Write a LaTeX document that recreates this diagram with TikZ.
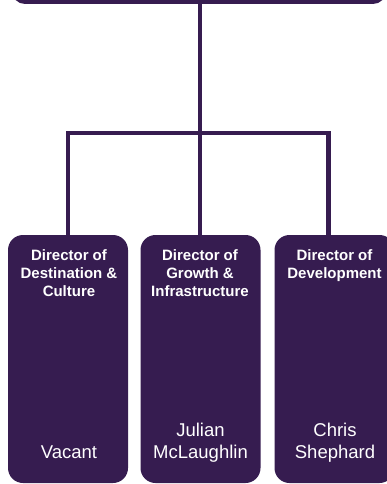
\documentclass[tikz,border=0pt]{standalone}
\usepackage{fontspec}
\setmainfont{Liberation Sans}
\definecolor{plum}{RGB}{54,28,80}
\begin{document}
\begin{tikzpicture}[x=1pt,y=-1pt,
  box/.style={draw=none,fill=plum,rounded corners=15pt,minimum width=120pt,minimum height=248pt,inner sep=0pt},
  conn/.style={draw=plum,line width=4.5pt},
  ttl/.style={anchor=base,inner sep=0pt,text=white,font=\fontsize{15}{18}\selectfont\bfseries},
  nm/.style={anchor=base,inner sep=0pt,text=white,font=\fontsize{18.5}{22}\selectfont}]
\useasboundingbox (0,0) rectangle (387,484);
\begin{scope}
\clip (0,0) rectangle (387,484);
\node[box,minimum width=374pt,minimum height=60pt,rounded corners=13pt] (top) at (199,-26) {};
\node[box] (d1) at (68,359) {};
\node[box] (d2) at (200.5,359) {};
\node[box] (d3) at (334.5,359) {};
\end{scope}
\coordinate (bus) at (200,133);
\draw[conn] (bus |- top.south) -- (bus);
\draw[conn] (d1.north) |- (bus) -| ([xshift=-6pt]d3.north);
\draw[conn] (bus) -- (bus |- d2.north);
\node[ttl] (t1) at (69,260.5) {\begin{tabular}[t]{@{}c@{}}Director of\\Destination \&\\Culture\end{tabular}};
\node[ttl] (t2) at (200,260.5) {\begin{tabular}[t]{@{}c@{}}Director of\\Growth \&\\Infrastructure\end{tabular}};
\node[ttl] (t3) at (334.5,260.5) {\begin{tabular}[t]{@{}c@{}}Director of\\Development\end{tabular}};
\node[nm] (n1) at (69,458.6) {\begin{tabular}[b]{@{}c@{}}Vacant\end{tabular}};
\node[nm] (n2) at (200.5,458.6) {\begin{tabular}[b]{@{}c@{}}Julian\\McLaughlin\end{tabular}};
\node[nm] (n3) at (335,458.6) {\begin{tabular}[b]{@{}c@{}}Chris\\Shephard\end{tabular}};
\end{tikzpicture}
\end{document}
